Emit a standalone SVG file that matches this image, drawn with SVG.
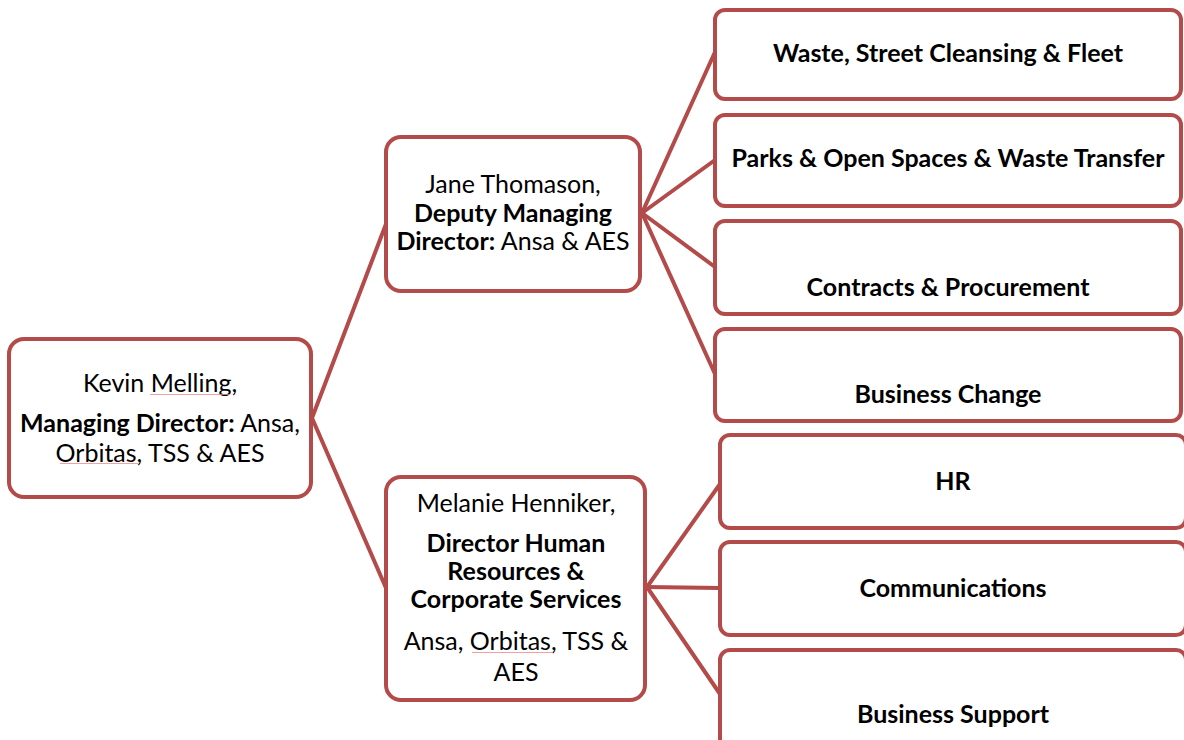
<svg xmlns="http://www.w3.org/2000/svg" width="1184" height="740" viewBox="0 0 1184 740">
<style>
.box{fill:#fff;stroke:#B24B49;stroke-width:4}
.con line{stroke:#B24B49;stroke-width:4;stroke-linecap:round}
text{font-family:Lato,"Open Sans","Liberation Sans",sans-serif;font-size:25px;fill:#000;text-anchor:middle}
.b{font-weight:bold}
.sq{fill:none;stroke:#EC8A8A;stroke-width:1}
</style>
<defs>
<pattern id="wave" width="4" height="3" patternUnits="userSpaceOnUse">
<path d="M0,2 L1,1 L2,2 L3,1 L4,2" fill="none" stroke="#EC8A8A" stroke-width="0.8"/>
</pattern>
</defs>
<rect width="1184" height="740" fill="#fff"/>
<g id="connectors" class="con">
<line x1="312" y1="418" x2="386" y2="224"/>
<line x1="312" y1="418" x2="386" y2="588"/>
<line x1="642" y1="213" x2="715" y2="52"/>
<line x1="642" y1="213" x2="715" y2="160"/>
<line x1="642" y1="213" x2="715" y2="267"/>
<line x1="642" y1="213" x2="715" y2="374"/>
<line x1="647" y1="587" x2="720" y2="484"/>
<line x1="647" y1="587" x2="720" y2="588"/>
<line x1="647" y1="587" x2="720" y2="694"/>
</g>
<g id="root">
<rect class="box" x="9" y="339" width="302" height="158" rx="15"/>
<text x="160" y="392">Kevin Melling,</text>
<text x="160" y="432"><tspan class="b">Managing Director:</tspan> Ansa,</text>
<text x="160" y="462">Orbitas, TSS &amp; AES</text>
<rect x="150" y="393" width="80" height="3" fill="url(#wave)"/>
<rect x="60" y="463" width="78" height="3" fill="url(#wave)"/>
</g>
<g id="jane">
<rect class="box" x="386" y="137" width="254" height="154" rx="15"/>
<text x="513" y="193">Jane Thomason,</text>
<text x="513" y="222" class="b">Deputy Managing</text>
<text x="513" y="250"><tspan class="b">Director:</tspan> Ansa &amp; AES</text>
</g>
<g id="melanie">
<rect class="box" x="386" y="477" width="259" height="223" rx="15"/>
<text x="516" y="512">Melanie Henniker,</text>
<text x="516" y="552" class="b">Director Human</text>
<text x="516" y="580" class="b">Resources &amp;</text>
<text x="516" y="608" class="b">Corporate Services</text>
<text x="516" y="650">Ansa, Orbitas, TSS &amp;</text>
<text x="516" y="681">AES</text>
<rect x="472" y="651" width="80" height="3" fill="url(#wave)"/>
</g>
<g id="waste">
<rect class="box" x="715" y="10" width="466" height="89" rx="10"/>
<text x="948" y="62" class="b">Waste, Street Cleansing &amp; Fleet</text>
</g>
<g id="parks">
<rect class="box" x="715" y="115" width="466" height="91" rx="10"/>
<text x="948" y="167" class="b">Parks &amp; Open Spaces &amp; Waste Transfer</text>
</g>
<g id="contracts">
<rect class="box" x="715" y="221" width="466" height="93" rx="10"/>
<text x="948" y="296" class="b">Contracts &amp; Procurement</text>
</g>
<g id="change">
<rect class="box" x="715" y="329" width="466" height="92" rx="10"/>
<text x="948" y="403" class="b">Business Change</text>
</g>
<g id="hr">
<rect class="box" x="720" y="435" width="466" height="93" rx="10"/>
<text x="953" y="490" class="b">HR</text>
</g>
<g id="comms">
<rect class="box" x="720" y="542" width="466" height="93" rx="10"/>
<text x="953" y="597" class="b">Communications</text>
</g>
<g id="support">
<rect class="box" x="720" y="650" width="466" height="100" rx="10"/>
<text x="953" y="723" class="b">Business Support</text>
</g>
</svg>
